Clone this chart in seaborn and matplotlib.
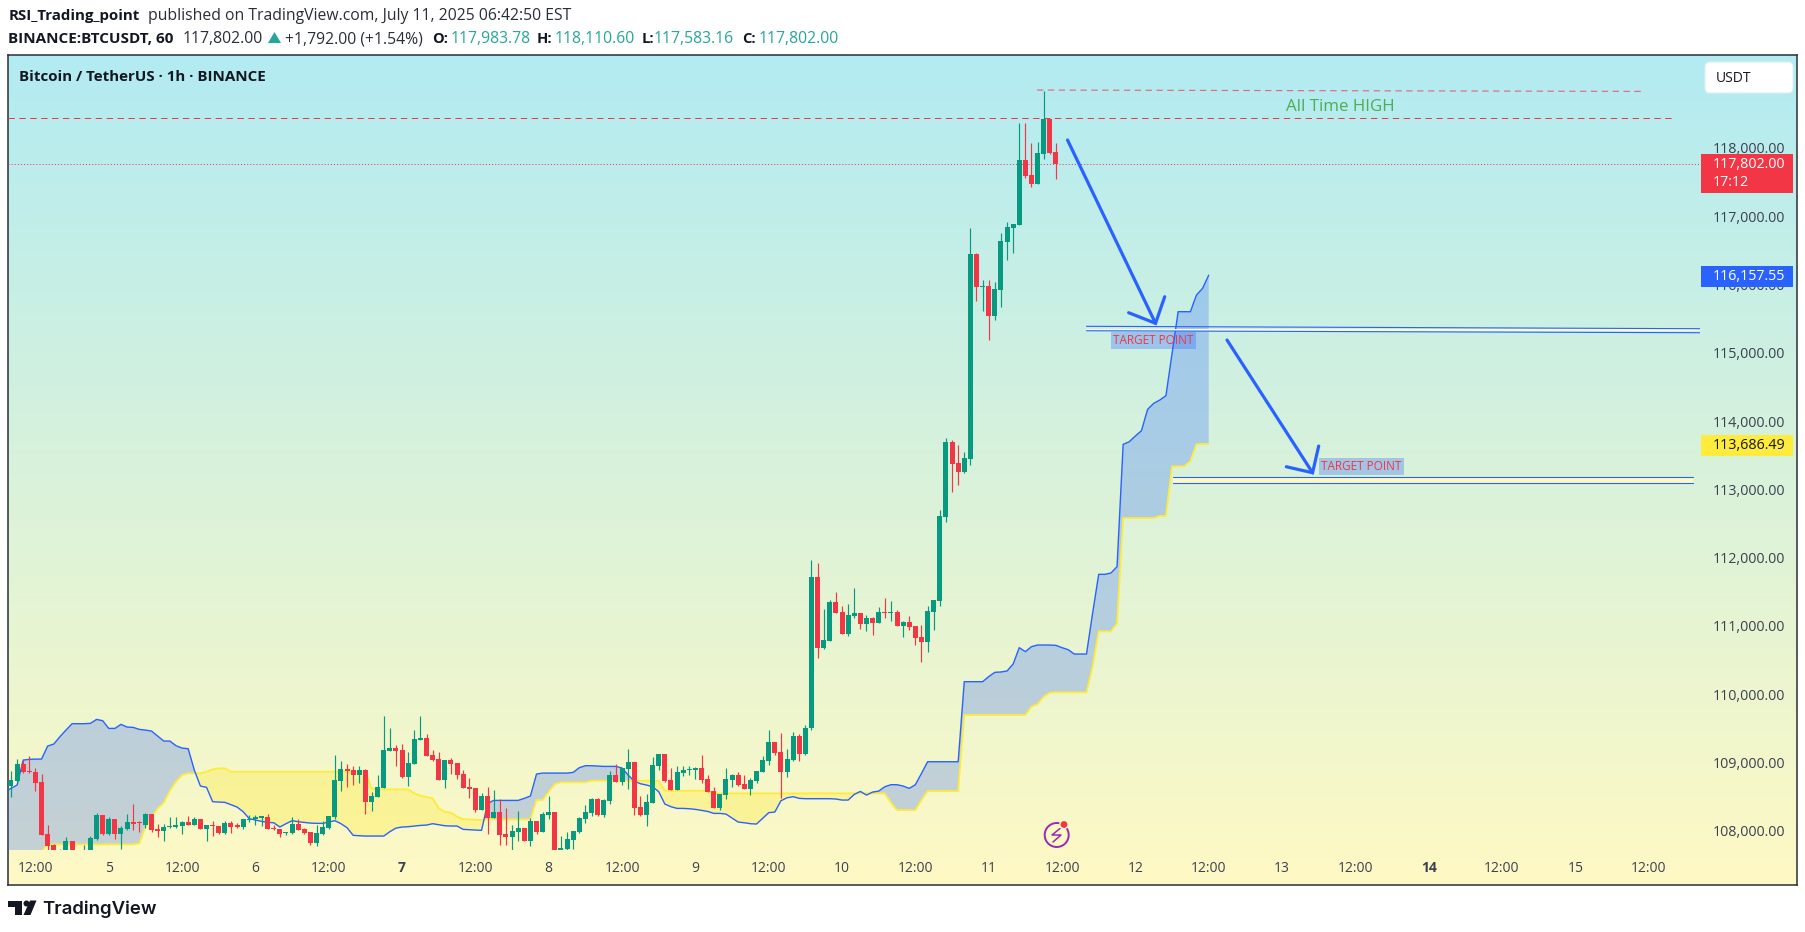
import numpy as np
import seaborn as sns
import matplotlib.pyplot as plt
from matplotlib.patches import Rectangle, FancyBboxPatch, Polygon, Circle
from matplotlib.transforms import ScaledTranslation

# candles start at hour 8 after Jul 4 00:00, one per hour
first_candle_hour = 8
opens = [
    108678,108756,109000,108898,108878,108737,107975,107814,107650,107620,
    107873,107600,107550,107640,107902,108254,107975,108195,107975,108049,
    108151,108151,108107,108268,108044,108019,108078,108083,108097,108151,
    108107,108195,108049,108107,108093,107990,108136,108107,108078,108185,
    108200,108215,108224,108068,108049,107990,107990,108122,108049,108005,
    107844,107975,108063,108224,108751,108927,108912,108839,108912,108444,
    108517,108649,109191,109234,109205,108810,109000,109352,109381,109132,
    109073,108766,109059,109015,108854,108659,108649,108327,108532,108210,
    108298,107975,107931,108005,108063,107873,108166,108005,108254,108298,
    107644,107756,107888,108005,108195,108283,108488,108254,108459,108839,
    108737,108927,109029,108371,108254,108429,108971,109147,108766,108620,
    108868,108912,108912,108942,108781,108605,108356,108546,108766,108839,
    108707,108634,108751,108883,109044,109322,109176,108883,109059,109410,
    109147,109528,111739,110699,110802,111373,111227,110904,111168,111212,
    111051,111139,111066,111227,111212,111227,111022,111080,111022,110860,
    110787,111226,111387,112617,113715,113407,113276,113466,116468,115985,
    116000,115560,115941,116643,116848,116892,117844,117624,117492,117932,
    118444,117961]
highs = [
    108903,109073,109059,109117,108937,108854,108107,107830,107750,107936,
    107873,107700,107814,107946,108288,108254,108219,108195,108093,108268,
    108415,108166,108283,108268,108122,108122,108224,108224,108166,108239,
    108224,108195,108107,108166,108093,108166,108166,108136,108195,108254,
    108254,108224,108268,108107,108049,108005,108224,108195,108058,108005,
    108107,108166,108239,109132,109044,109000,108971,108971,108927,108590,
    108839,109703,109527,109278,109293,109176,109498,109703,109439,109205,
    109176,109059,109088,109015,108912,108795,108649,108576,108664,108620,
    108488,108356,108107,108312,108063,108210,108166,108298,108532,108298,
    107946,108005,108019,108224,108400,108502,108502,108488,108898,109000,
    108942,109220,109029,108532,108561,109103,109147,109147,108942,108971,
    108971,108971,108957,109132,108839,108664,108561,108942,108854,108883,
    108839,108795,108898,109117,109498,109322,109454,109220,109469,109439,
    109571,111988,111944,111270,111402,111519,111314,111344,111578,111212,
    111183,111153,111300,111431,111388,111256,111095,111168,111022,111036,
    111314,111402,112719,113773,113744,113671,113568,116848,116482,116087,
    116087,116058,116775,116936,116907,118385,118385,118093,118107,118854,
    118444,118093]
lows = [
    108522,108742,108873,108864,108610,107961,107692,107600,107600,107600,
    107560,107550,107500,107600,107888,107961,107961,107902,107756,108034,
    108034,108005,108058,108010,107931,107873,108058,108058,107975,108107,
    108107,108049,107873,107946,107975,107975,107990,108063,108049,108156,
    108107,108093,108049,108034,107931,107961,107975,108034,107975,107814,
    107800,107961,108049,108195,108605,108664,108693,108722,108268,108312,
    108517,108649,109191,108971,108795,108678,109000,109352,109117,109044,
    108766,108649,108854,108781,108649,108502,108298,108327,107975,108210,
    107814,107814,107741,107873,107873,107800,107975,108005,108195,107600,
    107600,107700,107756,107990,108136,108239,108239,108224,108415,108737,
    108693,108634,108254,108239,108093,108429,108912,108737,108620,108620,
    108825,108839,108781,108722,108590,108356,108327,108488,108664,108678,
    108634,108546,108722,108883,108986,109132,108502,108810,109044,109044,
    109132,109499,110553,110685,110802,111212,110904,110875,111139,110978,
    110948,110890,111066,111139,111095,111022,110860,110963,110743,110494,
    110641,110962,111314,112544,112983,113085,113261,113378,115780,115633,
    115209,115501,115692,116380,116482,116892,117580,117448,117492,117858,
    117932,117566]
closes = [
    108766,109000,108878,108883,108727,107961,107805,107644,107690,107873,
    107600,107650,107700,107917,108254,107975,108195,107975,108063,108146,
    108127,108141,108268,108034,108024,108078,108093,108107,108151,108107,
    108195,108049,108107,108097,107990,108136,108078,108083,108195,108195,
    108210,108224,108049,108053,107975,108005,108122,108034,107990,107844,
    107990,108078,108239,108766,108927,108898,108839,108912,108444,108532,
    108664,109205,109234,109191,108810,109015,109366,109381,109117,109059,
    108766,109059,109000,108839,108649,108634,108327,108532,108210,108298,
    107961,107931,108019,108063,107873,108166,108005,108268,108298,107644,
    107770,107902,108019,108210,108298,108488,108254,108473,108839,108737,
    108942,109029,108356,108254,108444,108986,109147,108751,108620,108883,
    108912,108927,108942,108766,108590,108356,108561,108781,108839,108693,
    108634,108766,108898,109059,109322,109161,108883,109073,109410,109147,
    109527,111739,110699,110817,111373,111212,110904,111183,111212,111051,
    111139,111066,111227,111212,111227,111022,111080,111007,110846,110787,
    111241,111402,112631,113715,113393,113276,113480,116468,115985,116000,
    115560,115955,116658,116863,116907,117844,117610,117492,117946,118444,
    117946,117780]

# cloud lines, one value per hour from hour 7
first_cloud_hour = 7
span_blue = [
    108595,108644,108693,109059,109069,109073,109073,109264,109293,109400,
    109498,109591,109591,109591,109596,109654,109635,109522,109522,109581,
    109542,109537,109508,109498,109483,109410,109337,109337,109269,109234,
    109225,108912,108678,108659,108449,108444,108439,108405,108371,108302,
    108200,108180,108161,108146,108141,108078,108127,108171,108156,108146,
    108136,108132,108132,108151,108171,108127,108068,107956,107951,107946,
    107946,107946,107946,108010,108063,108078,108083,108093,108102,108107,
    108127,108112,108097,108093,108093,108044,108039,108034,108029,108424,
    108468,108468,108468,108468,108468,108498,108532,108854,108868,108868,
    108868,108868,108868,108878,108947,108976,108976,108971,108966,108966,
    108966,108942,108839,108751,108712,108693,108668,108595,108415,108376,
    108351,108351,108346,108337,108322,108307,108278,108278,108268,108210,
    108151,108141,108127,108122,108205,108288,108298,108463,108507,108522,
    108498,108493,108493,108493,108493,108493,108488,108473,108473,108556,
    108600,108546,108590,108605,108668,108698,108698,108678,108644,108698,
    108864,109034,109034,109034,109034,109034,109034,110206,110206,110206,
    110206,110280,110343,110348,110363,110465,110704,110646,110719,110743,
    110743,110743,110738,110704,110675,110611,110611,110611,111207,111778,
    111778,111797,111890,113681,113720,113803,113881,114193,114281,114330,
    114393,115013,115623,115623,115623,115867,115965,116157]
span_yellow = [
    107640,107640,107640,107640,107640,107640,107717,107824,107824,107824,
    107824,107824,107824,107824,107824,107824,107824,107824,107824,107824,
    107824,107824,107839,108083,108219,108351,108434,108610,108742,108839,
    108864,108864,108864,108888,108922,108937,108937,108888,108888,108888,
    108888,108888,108888,108888,108888,108888,108888,108888,108888,108888,
    108888,108888,108888,108888,108888,108888,108888,108888,108888,108888,
    108644,108629,108629,108629,108629,108629,108629,108571,108537,108517,
    108498,108351,108302,108288,108229,108195,108190,108185,108180,108190,
    108190,108190,108190,108190,108190,108190,108190,108473,108473,108595,
    108707,108732,108732,108732,108732,108732,108756,108756,108756,108756,
    108756,108756,108756,108756,108756,108756,108756,108756,108610,108610,
    108610,108610,108610,108610,108610,108610,108571,108571,108571,108571,
    108571,108571,108571,108571,108571,108571,108571,108571,108571,108571,
    108571,108571,108571,108571,108571,108571,108571,108571,108571,108571,
    108571,108571,108571,108571,108571,108434,108327,108327,108327,108327,
    108473,108605,108605,108605,108605,108605,108605,109718,109718,109718,
    109718,109718,109718,109718,109718,109718,109718,109718,109840,109879,
    109987,110045,110050,110050,110050,110050,110050,110050,110426,110943,
    110943,110943,111060,112602,112602,112602,112602,112602,112602,112632,
    112632,113359,113359,113359,113437,113681,113686,113686]

price_ticks = [108000,109000,110000,111000,112000,113000,114000,115000,116000,117000,118000]
time_ticks = [12,24,36,48,60,72,84,96,108,120,132,144,156,168,180,192,204,216,228,240,252,264,276]
time_labels = ['12:00','5','12:00','6','12:00','7','12:00','8','12:00','9','12:00','10',
               '12:00','11','12:00','12','12:00','13','12:00','14','12:00','15','12:00']
bold_labels = ['7','14']

last_close = 117780
ath_level = 118465
ath_wick_start, ath_wick_end = 118868, 118848
target_1 = (115409,115374,115344,115315)
target_2 = (113198,113110)
arrow_1_hours = [180.9,195.3]
arrow_1_prices = [118136,115453]
arrow_1_head_hours = [190.9,195.3,196.8]
arrow_1_head_prices = [115608,115453,115842]
arrow_2_hours = [207.0,221.0]
arrow_2_prices = [115208,113265]
arrow_2_head_hours = [216.7,221.0,222.0]
arrow_2_head_prices = [113353,113265,113656]

UP = '#089981'
DOWN = '#F23645'
BLUE = '#2962FF'
YELLOW = '#FFEB3B'
TEAL = '#26A69A'
INK = '#131722'
TICK = '#3b4150'
W, H = 1806, 932

sns.set_theme(style='white')
plt.rcParams['font.family'] = ['Open Sans', 'DejaVu Sans']
plt.rcParams['axes.unicode_minus'] = False

fig = plt.figure(figsize=(W/100, H/100), dpi=100)
fig.patch.set_facecolor('white')

def box(x0, y0, x1, y1):
    return [x0/W, 1-y1/H, (x1-x0)/W, (y1-y0)/H]

# gradient panel behind the chart
bg = fig.add_axes(box(8, 55, 1797, 885), zorder=0)
grad = np.linspace(0, 1, 256)[:, None, None]
top_col = np.array([178, 235, 242])/255
bot_col = np.array([255, 249, 196])/255
bg.imshow(top_col*(1-grad)+bot_col*grad, aspect='auto', extent=[0, 1, 0, 1])
bg.set_xticks([])
bg.set_yticks([])
for s in bg.spines.values():
    s.set_color('#2a2e39')
    s.set_linewidth(1.1)

ax = fig.add_axes(box(8, 55, 1700, 850), zorder=1)
ax.patch.set_alpha(0)
for s in ax.spines.values():
    s.set_visible(False)
ax.set_xlim(7.51, 284.4)
ax.set_ylim(107742, 119381)

cloud_hours = np.arange(first_cloud_hour, first_cloud_hour+len(span_blue))
blue_arr = np.array(span_blue)
yellow_arr = np.array(span_yellow)
ax.fill_between(cloud_hours, blue_arr, yellow_arr, where=blue_arr >= yellow_arr, interpolate=True,
                color=BLUE, alpha=0.26, linewidth=0, zorder=1)
ax.fill_between(cloud_hours, blue_arr, yellow_arr, where=blue_arr <= yellow_arr, interpolate=True,
                color=YELLOW, alpha=0.35, linewidth=0, zorder=1)
sns.lineplot(x=cloud_hours, y=span_yellow, color=YELLOW, linewidth=1.3, ax=ax, zorder=2)
sns.lineplot(x=cloud_hours, y=span_blue, color=BLUE, linewidth=1.0, ax=ax, zorder=3)

# candles
candle_hours = np.arange(first_candle_hour, first_candle_hour+len(opens))
o = np.array(opens)
c = np.array(closes)
colors = [UP if b >= a else DOWN for a, b in zip(o, c)]
ax.vlines(candle_hours, lows, highs, colors=colors, linewidth=0.85, zorder=4)
ax.bar(candle_hours, np.maximum(np.abs(c-o), 18), bottom=np.minimum(o, c), width=0.82,
       color=colors, linewidth=0, zorder=5)

# horizontal drawings
ax.plot([7.51, 284.4], [last_close, last_close], color=DOWN, lw=0.72, dashes=(1, 2.1), zorder=3)
ax.plot([7.51, 280.3], [ath_level, ath_level], color=DOWN, lw=0.72, dashes=(6.4, 4.5), zorder=3)
ax.plot([175.9, 275.3], [ath_wick_start, ath_wick_end], color='#E4576A', lw=0.85, alpha=0.85,
        dashes=(5.4, 3.8), zorder=3)

ax.fill_between([184.0, 284.4], target_1[1], target_1[2], color='#FFF9C4', linewidth=0, zorder=6)
ax.plot([184.0, 284.4], [target_1[0], target_1[1]], color=BLUE, lw=0.8, zorder=7)
ax.plot([184.0, 284.4], [target_1[2], target_1[3]], color=BLUE, lw=0.8, zorder=7)
ax.fill_between([198.1, 283.3], target_2[0], target_2[1], color='#FFF9C4', linewidth=0, zorder=6)
ax.plot([198.1, 283.3], [target_2[0], target_2[0]], color=BLUE, lw=0.8, zorder=7)
ax.plot([198.1, 283.3], [target_2[1], target_2[1]], color=BLUE, lw=0.8, zorder=7)

# arrows
for xs, ys in [(arrow_1_hours, arrow_1_prices), (arrow_1_head_hours, arrow_1_head_prices),
               (arrow_2_hours, arrow_2_prices), (arrow_2_head_hours, arrow_2_head_prices)]:
    ax.plot(xs, ys, color=BLUE, lw=2.3, solid_capstyle='round', solid_joinstyle='miter', zorder=8)

ax.set_xticks(time_ticks)
ax.set_xticklabels(time_labels)
ax.tick_params(axis='x', length=0, pad=8, labelsize=10, labelcolor=TICK)
for t in ax.get_xticklabels():
    if t.get_text() in bold_labels:
        t.set_fontweight('bold')
ax.yaxis.tick_right()
ax.set_yticks(price_ticks)
ax.set_yticklabels([f'{p:,.2f}' for p in price_ticks])
ax.tick_params(axis='y', length=0, pad=9, labelsize=10.3, labelcolor=TICK)
for t in ax.get_yticklabels():
    t.set_transform(t.get_transform()+ScaledTranslation(0, 1.5/100, fig.dpi_scale_trans))
ax.set_xlabel('')
ax.set_ylabel('')

# overlay in pixel coordinates for labels and badges
ui = fig.add_axes([0, 0, 1, 1], zorder=3)
ui.set_xlim(0, W)
ui.set_ylim(H, 0)
ui.axis('off')
ui.patch.set_alpha(0)

def txt(x, y, s, color=INK, size=11.3, weight='normal', ha='left', **kw):
    return ui.text(x, y, s, color=color, fontsize=size, fontweight=weight, ha=ha, va='center', **kw)

# header
txt(8.5, 16, 'RSI_Trading_point', weight='bold', size=10.8)
txt(148.5, 16, 'published on TradingView.com, July 11, 2025 06:42:50 EST', color='#2a2e39')
txt(8.5, 39, 'BINANCE:BTCUSDT, 60', weight='bold', size=11)
txt(183, 39, '117,802.00', color='#2a2e39')
ui.add_patch(Polygon([(268, 43), (281, 43), (274.5, 32)], color=TEAL, lw=0))
txt(285, 39, '+1,792.00 (+1.54%)', color='#2a2e39')
for x_lab, lab, x_val, val in [(431.7, 'O:', 450.7, '117,983.78'), (536.7, 'H:', 555, '118,110.60'),
                               (641.7, 'L:', 654, '117,583.16'), (741.7, 'C:', 758.3, '117,802.00')]:
    txt(x_lab, 39, lab, weight='bold', size=10.6)
    txt(x_val, 39, val, color=TEAL)

txt(19, 77, 'Bitcoin / TetherUS · 1h · BINANCE', size=10.9, weight='bold')
txt(1286, 107, 'All Time HIGH', color='#4CAF50', size=12.2)

# target labels
for x0, y0, x1, y1 in [(1111, 332, 1196, 349), (1319, 458, 1404, 475)]:
    ui.add_patch(Rectangle((x0, y0), x1-x0, y1-y0, color=BLUE, alpha=0.3, lw=0))
    txt((x0+x1)/2, (y0+y1)/2, 'TARGET POINT', color=DOWN, size=8.5, ha='center')

# price badges
ui.add_patch(Rectangle((1701, 154), 92, 39, color=DOWN, lw=0))
txt(1713, 165, '117,802.00', color='white', size=10.3)
txt(1713, 182, '17:12', color='white', size=10.3)
ui.add_patch(Rectangle((1701, 266), 92, 21, color=BLUE, lw=0))
txt(1713, 276, '116,157.55', color='white', size=10.3)
ui.add_patch(Rectangle((1701, 435), 92, 21, color=YELLOW, lw=0))
txt(1713, 445.4, '113,686.49', color=INK, size=10.3)

# currency button
ui.add_patch(FancyBboxPatch((1708, 65), 82, 25, boxstyle='round,pad=3,rounding_size=5',
                            fc='white', ec='#e0f0f2', lw=0.8))
txt(1716, 78, 'USDT', color=INK, size=10)

# lightning badge
ui.add_patch(Circle((1056.7, 835), 14.5, fc='#FFF9C4', ec='none'))
ui.add_patch(Circle((1056.7, 835), 12, fc='none', ec='#9C27B0', lw=1.4))
ui.plot([1060, 1052, 1061, 1053], [828.5, 835, 835, 842], color='#9C27B0', lw=1.1)
ui.add_patch(Circle((1064, 824.5), 4.8, fc='#FFF9C4', ec='none'))
ui.add_patch(Circle((1064, 824.5), 3.4, fc=DOWN, ec='none'))

# TradingView logo
ui.add_patch(Polygon([(8, 900.5), (22.5, 900.5), (22.5, 915), (15, 915), (15, 906.5), (8, 906.5)], color=INK, lw=0))
ui.add_patch(Circle((26.5, 903.5), 3, color=INK, lw=0))
ui.add_patch(Polygon([(30, 900.5), (36.5, 900.5), (30.5, 915), (23.5, 915)], color=INK, lw=0))
ui.text(42.5, 909, 'TradingView', color=INK, fontsize=13.4, fontweight='semibold', family=['Inter', 'DejaVu Sans'],
        ha='left', va='center')

fig.savefig('out.png', dpi=100)
